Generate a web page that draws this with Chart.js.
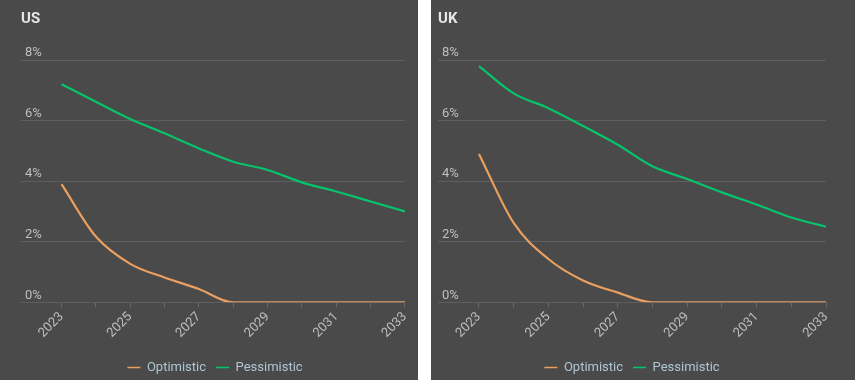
<!DOCTYPE html>
<html><head><meta charset="utf-8">
<script src="https://cdn.jsdelivr.net/npm/chart.js@4/dist/chart.umd.min.js"></script>
<style>
html,body{margin:0;padding:0;background:#fff;}
#wrap{position:relative;width:855px;height:380px;background:#fff;overflow:hidden;}
.panel{position:absolute;top:0;height:380px;background:#4a4a4a;}
#p1{left:0;width:418px;}
#p2{left:431px;width:424px;}
canvas{display:block;}
</style></head><body>
<div id="wrap">
  <div class="panel" id="p1"><canvas id="c1" width="418" height="380"></canvas></div>
  <div class="panel" id="p2"><canvas id="c2" width="424" height="380"></canvas></div>
</div>
<script>
const years = [2023, 2024, 2025, 2026, 2027, 2028, 2029, 2030, 2031, 2032, 2033];
const usOptimistic = [3.9, 2.17, 1.27, 0.82, 0.44, 0, 0, 0, 0, 0, 0];
const usPessimistic = [7.2, 6.62, 6.05, 5.58, 5.08, 4.64, 4.37, 3.96, 3.66, 3.33, 3.0];
const ukOptimistic = [4.9, 2.62, 1.43, 0.72, 0.32, 0, 0, 0, 0, 0, 0];
const ukPessimistic = [7.8, 6.9, 6.41, 5.82, 5.2, 4.49, 4.07, 3.63, 3.23, 2.8, 2.5];
const yTicks = [0, 2, 4, 6, 8];
const seriesNames = ['Optimistic', 'Pessimistic'];
const panelTitles = ['US', 'UK'];

const FONT = 'Roboto, "Noto Sans", sans-serif';
const ORANGE = '#e99f5f';
const GREEN = '#05c46c';
const GRID = '#5e5e5e';
const TICKTXT = '#bfbfbf';

function toPoints(arr) { return years.map((yr, i) => ({ x: yr, y: arr[i] })); }

function makeChart(id, title, opt, pess, padL, padR) {
  return new Chart(document.getElementById(id), {
    type: 'line',
    data: {
      datasets: [
        { label: seriesNames[0], data: toPoints(opt), borderColor: ORANGE, backgroundColor: ORANGE,
          borderWidth: 2.2, pointRadius: 0, cubicInterpolationMode: 'monotone', fill: false },
        { label: seriesNames[1], data: toPoints(pess), borderColor: GREEN, backgroundColor: GREEN,
          borderWidth: 2.2, pointRadius: 0, cubicInterpolationMode: 'monotone', fill: false }
      ]
    },
    options: {
      responsive: false,
      devicePixelRatio: 1,
      animation: false,
      layout: { padding: { left: padL, right: padR, top: 0, bottom: -4 } },
      plugins: {
        tooltip: { enabled: false },
        title: {
          display: true, text: title, align: 'start', color: '#e4e6e8',
          font: { family: FONT, size: 15, weight: 'bold' },
          padding: { top: 10, bottom: 32 }
        },
        legend: {
          position: 'bottom',
          labels: {
            color: '#aec6d4',
            font: { family: FONT, size: 13 },
            usePointStyle: true,
            pointStyle: 'line',
            pointStyleWidth: 13,
            boxHeight: 13,
            padding: 10,
            generateLabels(chart) {
              const items = Chart.defaults.plugins.legend.labels.generateLabels(chart);
              items.forEach(it => { it.lineWidth = 1.5; it.pointStyle = 'line'; });
              return items;
            }
          }
        }
      },
      scales: {
        x: {
          type: 'linear',
          min: 2021.82,
          max: 2033,
          afterBuildTicks(axis) { axis.ticks = years.map(v => ({ value: v })); },
          afterFit(axis) { axis.height += 8; },
          grid: { drawOnChartArea: false, drawTicks: true, tickLength: 5, color: '#6a6a6a' },
          border: { display: true, color: GRID },
          ticks: {
            autoSkip: false, minRotation: 45, maxRotation: 45, color: TICKTXT, padding: 2,
            font: { family: FONT, size: 13 },
            callback: v => (v % 2 === 1 ? String(v) : '')
          }
        },
        y: {
          min: 0, max: 8,
          afterBuildTicks(axis) { axis.ticks = yTicks.map(v => ({ value: v })); },
          afterFit(axis) { axis.width = 0; },
          grid: { color: GRID, drawTicks: false, lineWidth: 1 },
          border: { display: false },
          ticks: {
            mirror: true, padding: 4, labelOffset: -7, color: TICKTXT,
            font: { family: FONT, size: 13 },
            callback: v => v + '%'
          }
        }
      }
    }
  });
}

makeChart('c1', panelTitles[0], usOptimistic, usPessimistic, 21, 9);
makeChart('c2', panelTitles[1], ukOptimistic, ukPessimistic, 7, 29);
</script>
</body></html>
